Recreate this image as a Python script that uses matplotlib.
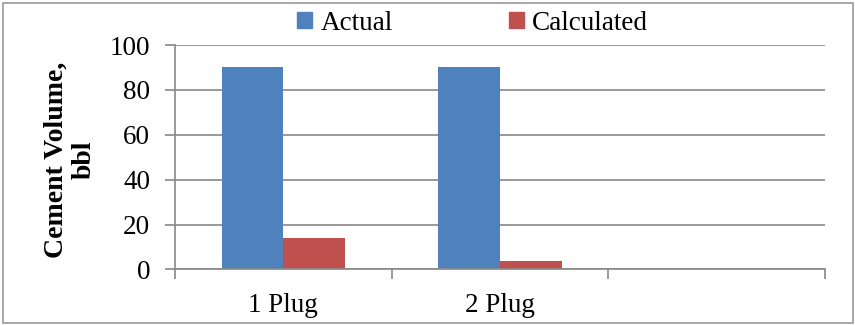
import numpy as np
import matplotlib
matplotlib.use('Agg')
import matplotlib.pyplot as plt
from matplotlib.patches import Rectangle, Patch

categories = ["1 Plug", "2 Plug", ""]
actual = [90, 90, np.nan]
calculated = [14, 4, np.nan]

BLUE = '#4F81BD'
RED = '#C0504D'
GRID = '#878787'

plt.rcParams['font.family'] = ['Liberation Serif', 'DejaVu Serif']

fig = plt.figure(figsize=(8.55, 3.25), dpi=100)
ax = fig.add_axes([0.2047, 0.1708, 0.7603, 0.6907])

x = np.arange(len(categories))
width = 0.285
ax.bar(x - width / 2, actual, width, color=BLUE, label='Actual')
ax.bar(x + width / 2, calculated, width, color=RED, label='Calculated')

ax.set_xlim(-0.5, len(categories) - 0.5)
ax.set_ylim(0, 100)
ax.set_yticks(range(0, 101, 20))
ax.tick_params(axis='y', labelsize=19.5, length=7, width=1.2, color=GRID, pad=11)

# category labels at centres, tick marks at the boundaries
ax.set_xticks(x)
ax.set_xticklabels(categories, fontsize=19.5)
ax.set_xticks(np.arange(-0.5, len(categories)), minor=True)
ax.tick_params(axis='x', which='major', length=0, pad=17)
ax.tick_params(axis='x', which='minor', length=7, width=1.2, color=GRID)

ax.grid(axis='y', color=GRID, linewidth=1.2)
ax.set_axisbelow(True)
for side in ('top', 'right'):
    ax.spines[side].set_visible(False)
for side in ('left', 'bottom'):
    ax.spines[side].set_color(GRID)
    ax.spines[side].set_linewidth(1.2)

fig.text(70 / 855, 1 - 160 / 325, 'Cement Volume,\nbbl', rotation=90,
         ha='center', va='center', fontsize=20, fontweight='bold',
         linespacing=1.15)

handles = [Patch(color=BLUE, label='Actual'), Patch(color=RED, label='Calculated')]
fig.legend(handles=handles, loc='center', bbox_to_anchor=(0.553, 0.929), ncol=2,
           frameon=False, fontsize=19.5, handlelength=0.55, handleheight=0.55,
           handletextpad=0.3, columnspacing=4.3, borderpad=0, borderaxespad=0)

# light frame around the whole chart
fig.patches.append(Rectangle((3 / 855, 2 / 325), 850 / 855, 320 / 325,
                             transform=fig.transFigure, fill=False,
                             edgecolor='#9a9a9a', linewidth=1.2))

fig.savefig('out.png', dpi=100)
